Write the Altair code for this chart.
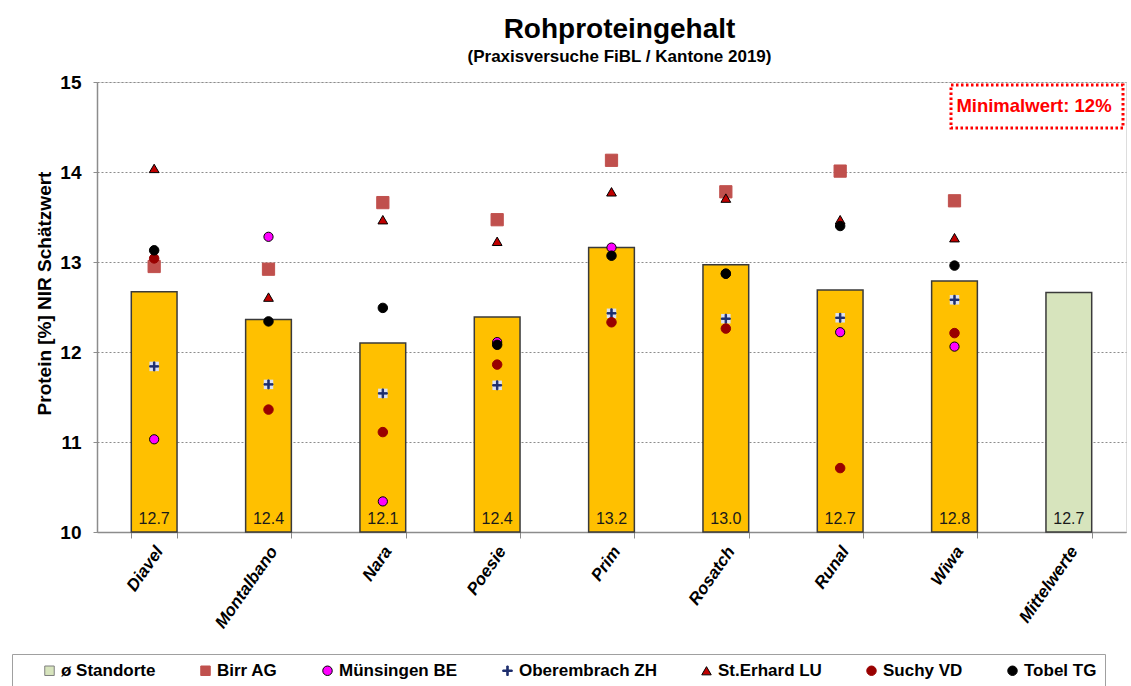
import altair as alt
import pandas as pd

FONT = "Liberation Sans, Arial, Helvetica, sans-serif"

categories = ["Diavel", "Montalbano", "Nara", "Poesie", "Prim", "Rosatch", "Runal", "Wiwa", "Mittelwerte"]
bar_values = [12.67, 12.36, 12.10, 12.39, 13.16, 12.97, 12.69, 12.79, 12.66]

varieties = categories[:8]
sites = ["ø Standorte", "Birr AG", "Münsingen BE", "Oberembrach ZH", "St.Erhard LU", "Suchy VD", "Tobel TG"]

birr_ag = [12.95, 12.92, 13.66, 13.47, 14.13, 13.78, 14.01, 13.68]
muensingen_be = [11.03, 13.28, 10.34, 12.11, 13.16, 12.87, 12.22, 12.06]
oberembrach_zh = [11.84, 11.64, 11.54, 11.63, 12.43, 12.37, 12.38, 12.58]
st_erhard_lu = [14.04, 12.61, 13.47, 13.23, 13.78, 13.71, 13.47, 13.27]
suchy_vd = [13.04, 11.36, 11.11, 11.86, 12.33, 12.26, 10.71, 12.21]
tobel_tg = [13.13, 12.34, 12.49, 12.08, 13.07, 12.87, 13.40, 12.96]

site_fill = ["#D7E4BD", "#C0504D", "#FF00FF", "#1F2F6E", "#C00000", "#990000", "#000000"]
site_stroke = ["#7F7F7F", "#C0504D", "#000000", "#1F2F6E", "#000000", "#990000", "#000000"]
plus_path = "M-1,-0.16L1,-0.16L1,0.16L-1,0.16Z M-0.16,-1L0.16,-1L0.16,1L-0.16,1Z"
site_shape = ["square", "square", "circle", plus_path, "triangle-up", "circle", "circle"]
site_size = [100, 150, 85, 80, 95, 90, 90]

series = {
    "Birr AG": birr_ag,
    "Münsingen BE": muensingen_be,
    "Oberembrach ZH": oberembrach_zh,
    "St.Erhard LU": st_erhard_lu,
    "Suchy VD": suchy_vd,
    "Tobel TG": tobel_tg,
}

bars_df = pd.DataFrame({"category": categories, "value": bar_values})

rows = []
for site, vals in series.items():
    for v, val in zip(varieties, vals):
        rows.append({"category": v, "site": site, "value": val,
                     "sz": site_size[sites.index(site)]})
points_df = pd.DataFrame(rows)
cross_df = points_df[points_df["site"] == "Oberembrach ZH"]

note_df = pd.DataFrame({"note": ["Minimalwert: 12%"]})

x_enc = alt.X(
    "category:N",
    sort=categories,
    scale=alt.Scale(domain=categories, paddingInner=0.6, paddingOuter=0.3),
    axis=alt.Axis(
        title=None,
        labelAngle=-55,
        labelAlign="right",
        labelBaseline="middle",
        labelFont=FONT,
        labelFontSize=17,
        labelFontWeight="bold",
        labelFontStyle="italic",
        labelColor="#000000",
        labelPadding=10,
        labelOffset=5,
        tickBand="extent",
        tickSize=6,
        tickColor="#8C8C8C",
        domainColor="#8C8C8C",
        domainWidth=1.5,
        grid=False,
    ),
)

y_scale = alt.Scale(domain=[10, 15], nice=False, zero=False)
y_axis = alt.Axis(
    title="Protein [%] NIR Schätzwert",
    titleFont=FONT,
    titleFontSize=19,
    titleFontWeight="bold",
    titleColor="#000000",
    titlePadding=5,
    titleY=211,
    values=[10, 11, 12, 13, 14, 15],
    format="d",
    labelFont=FONT,
    labelFontSize=19,
    labelFontWeight="bold",
    labelColor="#000000",
    labelPadding=12,
    tickSize=4,
    tickColor="#8C8C8C",
    domainColor="#8C8C8C",
    domainWidth=1.5,
    grid=True,
    gridColor="#8C8C8C",
    gridDash=[2, 2],
    gridWidth=1,
)

bars = alt.Chart(bars_df).mark_bar(stroke="#3A3A3A", strokeWidth=1.5).encode(
    x=x_enc,
    y=alt.Y("value:Q", scale=y_scale, axis=y_axis),
    y2=alt.datum(10),
    color=alt.condition(alt.datum.category == "Mittelwerte", alt.value("#D7E4BD"), alt.value("#FFC000")),
)

bar_text = alt.Chart(bars_df).mark_text(
    font=FONT, fontSize=16, color="#1A1A1A", baseline="alphabetic", dy=-8
).encode(
    x=alt.X("category:N", sort=categories),
    y=alt.datum(10),
    text=alt.Text("value:Q", format=".1f"),
)

cross_bg = alt.Chart(cross_df).mark_square(size=90, color="#DCE1F2", opacity=1).encode(
    x=alt.X("category:N", sort=categories),
    y=alt.Y("value:Q"),
)

legend = alt.Legend(
    title=" ",
    titleOrient="left",
    titlePadding=21,
    orient="none",
    legendX=-85,
    legendY=572,
    direction="horizontal",
    columns=7,
    padding=8,
    strokeColor="#A0A0A0",
    labelFont=FONT,
    labelFontSize=17,
    labelFontWeight="bold",
    labelColor="#000000",
    labelOffset=3,
    columnPadding=41,
    symbolSize=90,
    symbolStrokeWidth=1,
)

points = alt.Chart(points_df).mark_point(filled=True, opacity=1, strokeWidth=1).encode(
    x=alt.X("category:N", sort=categories),
    y=alt.Y("value:Q"),
    color=alt.Color("site:N", scale=alt.Scale(domain=sites, range=site_fill), legend=legend),
    shape=alt.Shape("site:N", scale=alt.Scale(domain=sites, range=site_shape)),
    stroke=alt.Stroke("site:N", scale=alt.Scale(domain=sites, range=site_stroke)),
    size=alt.Size("sz:Q", scale=None),
    order=alt.Order("site:N"),
)

note_box = alt.Chart(note_df).mark_rect(
    fill="#FFFFFF", fillOpacity=0, stroke="#FF0000", strokeWidth=3, strokeDash=[2.5, 2.5]
).encode(
    x=alt.value(854), x2=alt.value(1026), y=alt.value(3), y2=alt.value(46)
)

note_text = alt.Chart(note_df).mark_text(
    font=FONT, fontSize=18.5, fontWeight="bold", color="#FF0000", align="center", baseline="middle"
).encode(
    x=alt.value(937), y=alt.value(24), text="note:N"
)

chart = alt.layer(bars, bar_text, cross_bg, points, note_box, note_text).properties(
    width=1029,
    height=450,
    padding={"left": 97, "top": 82, "right": 5, "bottom": 154},
    autosize=alt.AutoSizeParams(type="none"),
    title=alt.Title(
        "Rohproteingehalt",
        subtitle="(Praxisversuche FiBL / Kantone 2019)",
        font=FONT,
        fontSize=28,
        fontWeight="bold",
        color="#000000",
        subtitleFont=FONT,
        subtitleFontSize=17,
        subtitleFontWeight="bold",
        subtitleColor="#000000",
        subtitlePadding=5,
        anchor="middle",
        offset=8,
        dx=8,
    ),
).configure_view(strokeWidth=0).configure(background="#FFFFFF")

chart.save("out.html", embed_options={"renderer": "svg", "actions": False})
